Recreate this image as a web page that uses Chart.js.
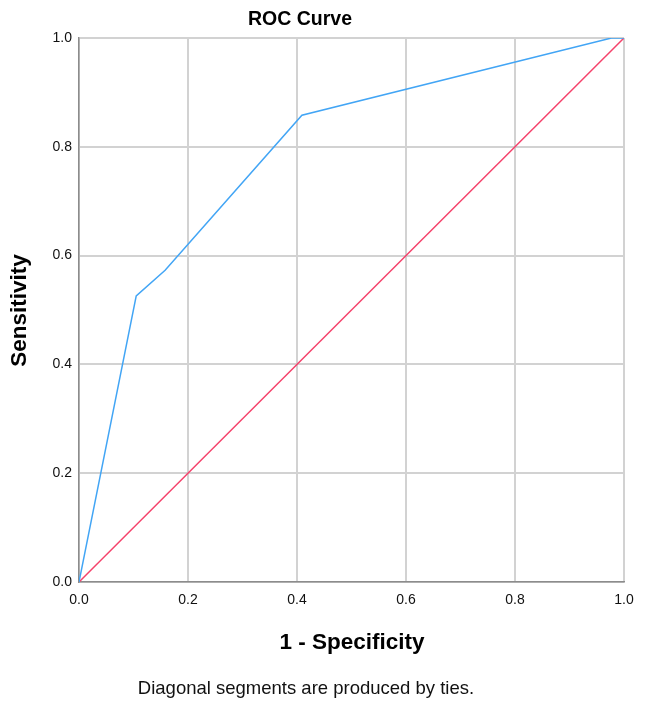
<!DOCTYPE html>
<html>
<head>
<meta charset="utf-8">
<script src="https://cdn.jsdelivr.net/npm/chart.js@4"></script>
<style>
  html, body { margin: 0; padding: 0; background: #fff; }
  #wrap { width: 645px; height: 707px; position: relative; }
</style>
</head>
<body>
<div id="wrap"><canvas id="roc"></canvas></div>
<script>
// ROC curve points (1 - specificity, sensitivity)
const rocX = [0, 0.105, 0.158, 0.409, 0.977, 1.0];
const rocY = [0, 0.526, 0.573, 0.858, 1.0, 1.0];
// reference line
const refX = [0, 1];
const refY = [0, 1];
const tickValues = [0, 0.2, 0.4, 0.6, 0.8, 1.0];

const titleText = 'ROC Curve';
const xTitle = '1 - Specificity';
const yTitle = 'Sensitivity';
const footnote = 'Diagonal segments are produced by ties.';

const FONT = 'Arial, "Liberation Sans", sans-serif';

// draws titles and footnote around the plot area
const textPlugin = {
  id: 'texts',
  afterDraw(chart) {
    const { ctx, chartArea } = chart;
    ctx.save();
    ctx.fillStyle = '#000';
    ctx.textAlign = 'center';
    ctx.textBaseline = 'middle';

    ctx.font = 'bold 19.5px ' + FONT;
    ctx.fillText(titleText, 300, 20);

    ctx.font = 'bold 22.5px ' + FONT;
    ctx.fillText(xTitle, 352, 643);

    ctx.font = '18.5px ' + FONT;
    ctx.fillStyle = '#111';
    ctx.fillText(footnote, 306, 689);

    ctx.fillStyle = '#000';
    ctx.font = 'bold 22.5px ' + FONT;
    ctx.translate(20, (chartArea.top + chartArea.bottom) / 2 + 0.5);
    ctx.rotate(-Math.PI / 2);
    ctx.fillText(yTitle, 0, 0);
    ctx.restore();
  }
};

const toPoints = (xs, ys) => xs.map((x, i) => ({ x, y: ys[i] }));

new Chart(document.getElementById('roc'), {
  type: 'scatter',
  data: {
    datasets: [
      {
        data: toPoints(rocX, rocY),
        showLine: true,
        borderColor: '#42a5f5',
        borderWidth: 1.5,
        pointRadius: 0,
        tension: 0
      },
      {
        data: toPoints(refX, refY),
        showLine: true,
        borderColor: '#f5426b',
        borderWidth: 1.5,
        pointRadius: 0,
        tension: 0
      }
    ]
  },
  options: {
    responsive: true,
    maintainAspectRatio: false,
    animation: false,
    layout: { padding: { top: 38, right: 21, left: 0, bottom: 0 } },
    plugins: {
      legend: { display: false },
      tooltip: { enabled: false }
    },
    scales: {
      x: {
        type: 'linear',
        min: 0,
        max: 1,
        afterFit: (s) => { s.height = 125; },
        afterBuildTicks: (s) => { s.ticks = tickValues.map(v => ({ value: v })); },
        grid: { color: '#d2d2d2', lineWidth: 2, drawTicks: false },
        border: { color: '#8c8c8c', width: 1.5 },
        ticks: {
          color: '#111',
          padding: 10,
          maxRotation: 0,
          font: { size: 14, family: FONT },
          callback: (v) => v.toFixed(1)
        }
      },
      y: {
        type: 'linear',
        min: 0,
        max: 1,
        afterFit: (s) => { s.width = 79; },
        afterBuildTicks: (s) => { s.ticks = tickValues.map(v => ({ value: v })); },
        grid: { color: '#d2d2d2', lineWidth: 2, drawTicks: false },
        border: { color: '#8c8c8c', width: 1.5 },
        ticks: {
          color: '#111',
          padding: 7,
          font: { size: 14, family: FONT },
          callback: (v) => v.toFixed(1)
        }
      }
    }
  },
  plugins: [textPlugin]
});
</script>
</body>
</html>
